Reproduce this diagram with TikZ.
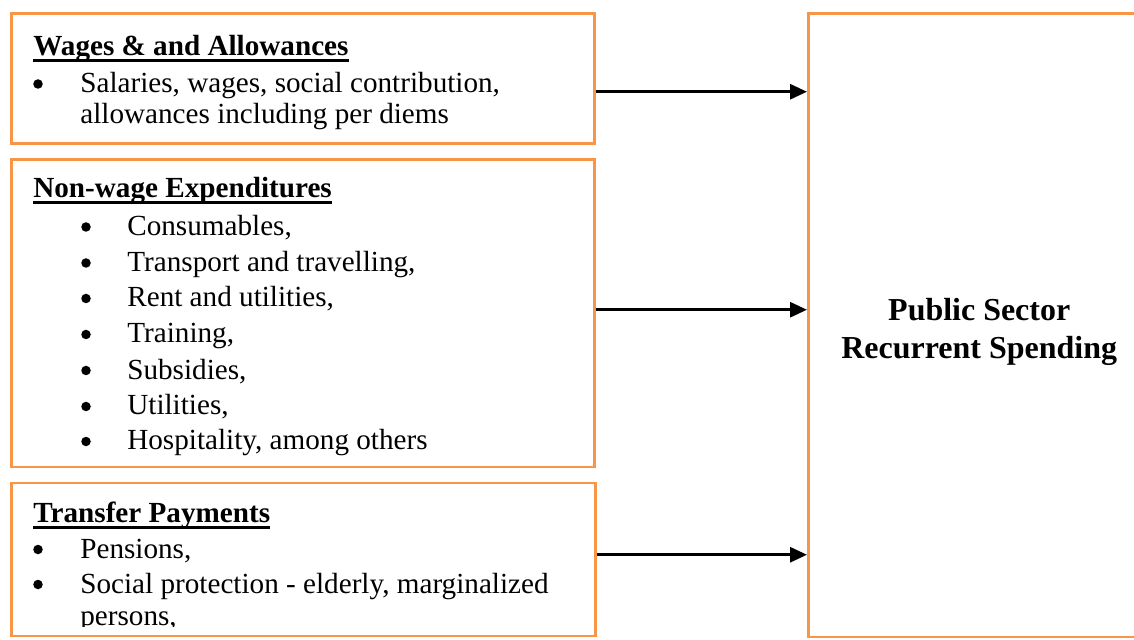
\documentclass[tikz,border=0pt]{standalone}
\usepackage{fontspec}
\setmainfont{Liberation Serif}
\usepackage{tikz}
\usetikzlibrary{arrows.meta,positioning}
\definecolor{boxline}{RGB}{247,150,70}
\definecolor{figink}{RGB}{0,0,0}
\newcommand{\hdline}[1]{\setbox0\hbox{#1}\rlap{\rule[-0.13cm]{\wd0}{0.06cm}}\box0}
\tikzset{
  bx/.style  ={draw=boxline, line width=0.05cm, inner sep=0pt, anchor=south west},
  hd/.style  ={font=\fontsize{16.6}{20}\selectfont\bfseries, anchor=base west, inner sep=0pt},
  itm/.style ={font=\fontsize{16.6}{20}\selectfont, anchor=base west, inner sep=0pt},
  dot/.style ={circle, fill=figink, inner sep=0pt, minimum size=0.19cm},
  arr/.style ={draw=figink, line width=0.06cm, -{Triangle[length=0.34cm,width=0.3cm]}},
  big/.style ={font=\fontsize{18.2}{21.8}\selectfont\bfseries, align=center, inner sep=0pt},
}

\begin{document}
\begin{tikzpicture}[scale=1]
  \useasboundingbox (0,0) rectangle (22.68,12.78);
  % boxes
  \node[bx, minimum width=11.66cm, minimum height=2.6cm] (wag) at (0.2,9.88) {};
  \node[bx, minimum width=11.66cm, minimum height=6.14cm] (nwg) at (0.2,3.42) {};
  \node[bx, minimum width=11.68cm, minimum height=3.06cm] (trf) at (0.2,0.04) {};
  \node[bx, minimum width=6.96cm, minimum height=12.46cm] (pub) at (16.14,0.02) {};
  \node[big] (pubt) at ([xshift=-0.06cm,yshift=-0.14cm]pub.center) {Public Sector\\Recurrent Spending};
  % wages
  \node[hd] (wagt) at (0.66,11.66) {\hdline{Wages \& and Allowances}};
  \node[dot] (wagd1) at (0.76,11.1) {};
  \node[itm] (wag1) at (1.6,10.93) {Salaries, wages, social contribution,};
  \node[itm] (wag2) at (1.6,10.3) {allowances including per diems};
  % non-wage
  \node[hd] (nwgt) at (0.66,8.82) {\hdline{Non-wage Expenditures}};
  \node[dot] (nwgd1) at (1.72,8.24) {};
  \node[itm] (nwg1) at (2.54,8.07) {Consumables,};
  \node[dot] (nwgd2) at (1.72,7.52) {};
  \node[itm] (nwg2) at (2.54,7.35) {Transport and travelling,};
  \node[dot] (nwgd3) at (1.72,6.81) {};
  \node[itm] (nwg3) at (2.54,6.64) {Rent and utilities,};
  \node[dot] (nwgd4) at (1.72,6.09) {};
  \node[itm] (nwg4) at (2.54,5.92) {Training,};
  \node[dot] (nwgd5) at (1.72,5.37) {};
  \node[itm] (nwg5) at (2.54,5.2) {Subsidies,};
  \node[dot] (nwgd6) at (1.72,4.65) {};
  \node[itm] (nwg6) at (2.54,4.48) {Utilities,};
  \node[dot] (nwgd7) at (1.72,3.95) {};
  \node[itm] (nwg7) at (2.54,3.78) {Hospitality, among others};
  % transfers
  \node[hd] (trft) at (0.66,2.34) {\hdline{Transfer Payments}};
  \node[dot] (trfd1) at (0.76,1.79) {};
  \node[itm] (trf1) at (1.6,1.62) {Pensions,};
  \node[dot] (trfd2) at (0.76,1.09) {};
  \node[itm] (trf2) at (1.6,0.92) {Social protection - elderly, marginalized};
  \begin{scope}
  \clip (0.2,0.26) rectangle (11.88,3.1);
  \node[itm] (trf3) at (1.6,0.28) {persons,};
  \end{scope}
  % arrows
  \coordinate (a1) at ([yshift=-0.26cm]wag.east);
  \coordinate (a2) at ([yshift=0.07cm]nwg.east);
  \coordinate (a3) at ([yshift=0.09cm]trf.east);
  \draw[arr] (a1) -- (a1 -| pub.west);
  \draw[arr] (a2) -- (a2 -| pub.west);
  \draw[arr] (a3) -- (a3 -| pub.west);
\end{tikzpicture}
\end{document}
